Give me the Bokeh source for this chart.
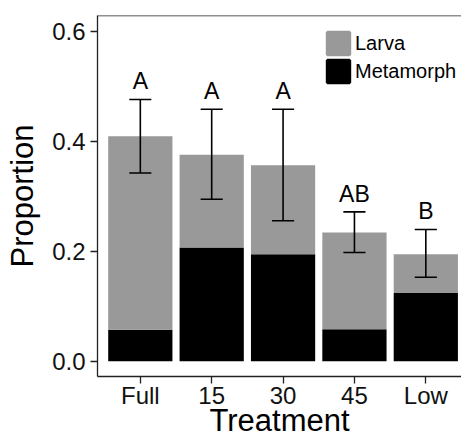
from bokeh.plotting import figure
from bokeh.models import ColumnDataSource, FixedTicker, Legend, LegendItem, Span, Range1d
from bokeh.core.properties import value
from bokeh.embed import file_html
from bokeh.resources import INLINE

categories = ["Full", "15", "30", "45", "Low"]
metamorph = [0.057, 0.207, 0.195, 0.058, 0.124]
larva = [0.353, 0.169, 0.162, 0.1765, 0.071]
err_upper = [0.477, 0.459, 0.459, 0.272, 0.240]
err_lower = [0.343, 0.295, 0.256, 0.198, 0.153]
letters = ["A", "A", "A", "AB", "B"]
series = ["Larva", "Metamorph"]
series_colors = ["#999999", "#000000"]
y_ticks = [0.0, 0.2, 0.4, 0.6]
y_tick_labels = ["0.0", "0.2", "0.4", "0.6"]
x_title = "Treatment"
y_title = "Proportion"

FONT = "Liberation Sans"
xpos = list(range(1, len(categories) + 1))

src = ColumnDataSource(dict(
    x=xpos, Metamorph=metamorph, Larva=larva,
    upper=err_upper, lower=err_lower,
    cap_l=[x - 0.155 for x in xpos], cap_r=[x + 0.155 for x in xpos],
    lab_y=[u + 0.033 for u in err_upper], letters=letters,
))

p = figure(width=461, height=441, output_backend="svg", toolbar_location=None,
           x_range=Range1d(0.4, 5.5), y_range=Range1d(-0.028, 0.63),
           min_border_left=97, min_border_top=15, min_border_right=0, min_border_bottom=65)

p.vbar_stack(["Metamorph", "Larva"], x="x", width=0.9, source=src,
             color=[series_colors[1], series_colors[0]], line_color=None)

p.segment(x0="x", x1="x", y0="lower", y1="upper", source=src, line_color="black", line_width=1.6)
p.segment(x0="cap_l", x1="cap_r", y0="upper", y1="upper", source=src, line_color="black", line_width=1.6)
p.segment(x0="cap_l", x1="cap_r", y0="lower", y1="lower", source=src, line_color="black", line_width=1.6)

p.text(x="x", y="lab_y", text="letters", source=src, text_align="center",
       text_baseline="middle", text_font=value(FONT), text_font_size="23px",
       text_color="black")

# legend swatches: glyphs whose single row is NaN, so only the legend shows them
items = []
for name, col in zip(series, series_colors):
    key_src = ColumnDataSource(dict(x=[float("nan")], top=[float("nan")]))
    r = p.vbar(x="x", top="top", width=0.9, source=key_src,
               fill_color=col, line_color=col, line_width=3)
    items.append(LegendItem(label=name, renderers=[r]))

legend = Legend(items=items, location=(227, 291), orientation="vertical")
legend.glyph_width = 28
legend.glyph_height = 28
legend.spacing = 0
legend.label_standoff = 3
legend.padding = 0
legend.margin = 0
legend.border_line_color = None
legend.background_fill_alpha = 0
legend.label_text_font = FONT
legend.label_text_font_size = "20px"
legend.label_text_color = "black"
p.add_layout(legend)

p.outline_line_color = None
p.add_layout(Span(location=p.y_range.end, dimension="width", line_color="#222222", line_width=1.3))
p.xgrid.visible = False
p.ygrid.visible = False

p.xaxis.ticker = FixedTicker(ticks=xpos)
p.xaxis.major_label_overrides = {x: c for x, c in zip(xpos, categories)}
p.yaxis.ticker = FixedTicker(ticks=y_ticks)
p.yaxis.major_label_overrides = {t: l for t, l in zip(y_ticks, y_tick_labels)}

p.xaxis.axis_label = x_title
p.yaxis.axis_label = y_title

for ax in (p.xaxis, p.yaxis):
    ax.axis_label_text_font = FONT
    ax.axis_label_text_font_size = "31px"
    ax.axis_label_text_font_style = "normal"
    ax.axis_label_text_color = "black"
    ax.major_label_text_font = FONT
    ax.major_label_text_font_size = "24px"
    ax.major_label_text_color = "#111111"
    ax.axis_line_color = "#222222"
    ax.axis_line_width = 1.3
    ax.major_tick_line_color = "#222222"
    ax.major_tick_line_width = 1.3
    ax.major_tick_out = 7
    ax.major_tick_in = 0
    ax.minor_tick_line_color = None
p.yaxis.major_label_standoff = 5
p.yaxis.axis_label_standoff = 9
p.xaxis.major_label_standoff = -2
p.xaxis.axis_label_standoff = -9

open("out.html", "w").write(file_html(p, INLINE))
